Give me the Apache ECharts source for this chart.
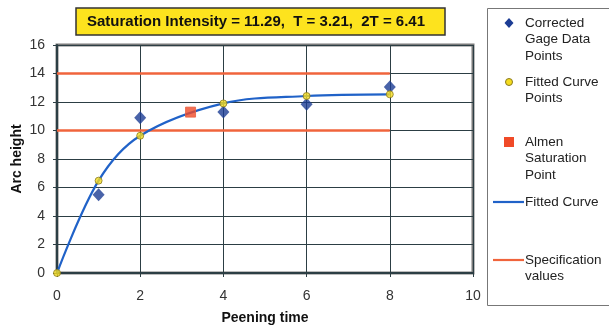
<!DOCTYPE html>
<html><head><meta charset="utf-8">
<script src="https://cdn.jsdelivr.net/npm/echarts@6/dist/echarts.min.js"></script>
<style>html,body{margin:0;padding:0;background:#fff}#c{width:609px;height:325px}</style>
</head><body><div id="c"></div>
<script>
// Data
var peeningTimes = [1, 2, 4, 6, 8];
var gageValues = [5.5, 10.9, 11.3, 11.85, 13.05];
var fittedTimes = [0, 1, 2, 4, 6, 8];
var fittedValues = [0, 6.48, 9.63, 11.9, 12.42, 12.54];
var satTime = 3.21, satValue = 11.29;
var specValues = [14, 10];
var specRange = [0, 8];
var titleText = 'Saturation Intensity = 11.29,  T = 3.21,  2T = 6.41';

function pairs(xs, ys){ return xs.map(function(x,i){ return [x, ys[i]]; }); }

var chart = echarts.init(document.getElementById('c'), null, {renderer:'canvas'});
var font = 'Arial, "Liberation Sans", sans-serif';
var series = [];
specValues.forEach(function(v){
  series.push({type:'line', data: specRange.map(function(x){return [x, v];}), symbol:'none',
    lineStyle:{color:'#f0643c', width:2.5}, z:3, silent:true});
});
series.push({type:'line', data: pairs(fittedTimes, fittedValues), smooth:0.35, symbol:'none',
  lineStyle:{color:'#2062c8', width:2.2}, z:4});
series.push({type:'scatter', data: pairs(peeningTimes, gageValues), symbol:'diamond', symbolSize:[12,13],
  itemStyle:{color:'#1c3c94'}, z:5});
series.push({type:'scatter', data: pairs(fittedTimes, fittedValues), symbol:'circle', symbolSize:7,
  itemStyle:{color:'#f5dc1e', borderColor:'#8a7a20', borderWidth:1}, z:6});
series.push({type:'scatter', data: [[satTime, satValue]], symbol:'rect', symbolSize:10,
  itemStyle:{color:'#f04a28', borderColor:'#e86040', borderWidth:1}, z:6});

var legendItems = [
  {kind:'diamond', lines:['Corrected','Gage Data','Points'], y:23},
  {kind:'circle', lines:['Fitted Curve','Points'], y:82},
  {kind:'rect', lines:['Almen','Saturation','Point'], y:142},
  {kind:'line', color:'#2062c8', lines:['Fitted Curve'], y:202},
  {kind:'line', color:'#f0643c', lines:['Specification','values'], y:260}
];
var graphics = [
  {type:'rect', shape:{x:76, y:8, width:369, height:27}, style:{fill:'#fde31e', stroke:'#333', lineWidth:1.5}, z:10},
  {type:'text', x:256, y:22, style:{text:titleText, font:'bold 15px '+font, fill:'#111', textAlign:'center', textVerticalAlign:'middle'}, z:11},
  {type:'rect', shape:{x:487.5, y:8.5, width:130, height:297}, style:{fill:'#fff', stroke:'#777', lineWidth:1}, z:10}
];
legendItems.forEach(function(it){
  var sx = 509;
  if (it.kind==='diamond') graphics.push({type:'polygon', shape:{points:[[sx,it.y-5],[sx+4.5,it.y],[sx,it.y+5],[sx-4.5,it.y]]}, style:{fill:'#1c3c94'}, z:11});
  if (it.kind==='circle') graphics.push({type:'circle', shape:{cx:sx, cy:it.y, r:3.5}, style:{fill:'#f5dc1e', stroke:'#8a7a20', lineWidth:1}, z:11});
  if (it.kind==='rect') graphics.push({type:'rect', shape:{x:sx-5, y:it.y-5, width:10, height:10}, style:{fill:'#f04a28'}, z:11});
  if (it.kind==='line') graphics.push({type:'line', shape:{x1:493, y1:it.y, x2:524, y2:it.y}, style:{stroke:it.color, lineWidth:2.2}, z:11});
  graphics.push({type:'text', x:525, y:it.y-8, style:{text:it.lines.join('\n'), font:'13.5px '+font, lineHeight:16.5, fill:'#222', textVerticalAlign:'top'}, z:11});
});

chart.setOption({
  animation:false,
  backgroundColor:'#fff',
  grid:{left:57, right:136, top:45, bottom:52, show:true, borderColor:'#7a7a7a', borderWidth:3, backgroundColor:'#fff',
    containLabel:false, outerBoundsMode:'none'},
  xAxis:{type:'value', min:0, max:10, interval:2, name:'Peening time', nameLocation:'middle', nameGap:38, nameMoveOverlap:false,
    nameTextStyle:{fontWeight:'bold', fontSize:14, color:'#111', fontFamily:font},
    axisLine:{show:true, onZero:false, lineStyle:{color:'#2c3e44', width:2}},
    axisTick:{show:true, length:4, lineStyle:{color:'#2c3e44'}},
    axisLabel:{fontSize:14, color:'#333', fontFamily:font, margin:16},
    splitLine:{show:true, lineStyle:{color:'#2c3e44', width:1}}},
  yAxis:{type:'value', min:0, max:16, interval:2, name:'Arc height', nameLocation:'middle', nameGap:33, nameRotate:90, nameMoveOverlap:false,
    nameTextStyle:{fontWeight:'bold', fontSize:14, color:'#111', fontFamily:font},
    axisLine:{show:true, onZero:false, lineStyle:{color:'#2c3e44', width:2}},
    axisTick:{show:true, length:4, lineStyle:{color:'#2c3e44'}},
    axisLabel:{fontSize:14, color:'#333', fontFamily:font, margin:12},
    splitLine:{show:true, lineStyle:{color:'#2c3e44', width:1}}},
  series:series,
  graphic:graphics
});
</script></body></html>
